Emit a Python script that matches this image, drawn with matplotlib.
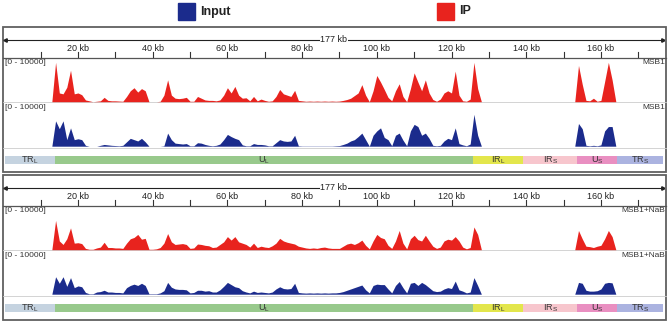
import matplotlib.pyplot as plt
from matplotlib.patches import Rectangle

plt.rcParams['font.family'] = ['Liberation Sans', 'DejaVu Sans']

# coverage per 1 kb bin, 0..177 kb
positions = list(range(178))

ip_msb1 = [
    0, 0, 0, 0, 0, 0, 0, 0, 0, 0,
    0, 0, 0, 0, 9000, 2000, 1800, 3300, 7200, 1800,
    2000, 1600, 400, 200, 0, 100, 200, 1000, 300, 200,
    200, 150, 100, 1200, 2500, 3200, 2200, 3000, 2500, 0,
    0, 0, 100, 1500, 5000, 1500, 800, 700, 800, 1000,
    100, 100, 1200, 800, 400, 300, 300, 200, 400, 1500,
    3200, 2000, 3500, 1500, 800, 900, 200, 1200, 200, 600,
    300, 100, 200, 1200, 2800, 1800, 1500, 1200, 2600, 300,
    200, 100, 150, 100, 150, 100, 150, 100, 150, 100,
    150, 300, 500, 800, 1400, 2000, 3900, 1500, 0, 2500,
    6000, 4500, 2800, 1000, 200, 2500, 4100, 1200, 0, 3000,
    6600, 4500, 2500, 5000, 2000, 500, 100, 600, 2000, 2500,
    2000, 7000, 1500, 200, 100, 600, 9000, 3000, 0, 0,
    0, 0, 0, 0, 0, 0, 0, 0, 0, 0,
    0, 0, 0, 0, 0, 0, 0, 0, 0, 0,
    0, 0, 0, 0, 8300, 4000, 300, 200, 800, 100,
    300, 4600, 9000, 5000, 0, 0, 0, 0, 0, 0,
    0, 0, 0, 0, 0, 0, 0, 0,
]

input_msb1 = [
    0, 0, 0, 0, 0, 0, 0, 0, 0, 0,
    0, 0, 0, 0, 5800, 4000, 5800, 1500, 4200, 1500,
    1700, 1500, 200, 0, 0, 0, 200, 400, 300, 200,
    150, 100, 200, 1000, 1800, 1500, 1200, 1800, 1000, 0,
    0, 0, 0, 100, 3000, 1500, 700, 600, 500, 600,
    100, 100, 800, 700, 400, 200, 100, 200, 500, 1500,
    2700, 2200, 1800, 1500, 300, 100, 100, 600, 400, 400,
    300, 100, 100, 800, 1500, 1200, 1100, 1200, 2500, 100,
    50, 50, 50, 50, 50, 50, 50, 50, 50, 100,
    150, 400, 700, 1200, 1500, 2200, 3000, 1500, 0, 2500,
    3500, 4200, 2000, 1500, 100, 2500, 3000, 1400, 100, 3500,
    5000, 4500, 2500, 3000, 1800, 200, 100, 200, 1200, 1800,
    1500, 4200, 600, 300, 100, 500, 7300, 2500, 0, 0,
    0, 0, 0, 0, 0, 0, 0, 0, 0, 0,
    0, 0, 0, 0, 0, 0, 0, 0, 0, 0,
    0, 0, 0, 0, 5200, 4000, 200, 100, 200, 100,
    300, 3500, 4500, 4500, 0, 0, 0, 0, 0, 0,
    0, 0, 0, 0, 0, 0, 0, 0,
]

ip_nab = [
    0, 0, 0, 0, 0, 0, 0, 0, 0, 0,
    0, 0, 0, 0, 6700, 2000, 1200, 2500, 5000, 1500,
    1600, 1400, 300, 100, 100, 400, 600, 1700, 500, 500,
    400, 400, 300, 1500, 2500, 2800, 3500, 2400, 2600, 100,
    100, 200, 500, 1500, 3700, 1800, 1200, 1300, 1400, 1200,
    300, 400, 1300, 1200, 1000, 900, 500, 600, 1200, 1800,
    3000, 2200, 3000, 1800, 1500, 1200, 600, 1500, 500, 800,
    600, 500, 900, 1500, 2600, 2000, 1700, 1500, 1300, 800,
    600, 400, 300, 400, 300, 500, 600, 400, 300, 300,
    300, 800, 1300, 1500, 1200, 1600, 2200, 1000, 200, 2000,
    3500, 2800, 2500, 1000, 300, 2000, 4400, 1500, 200, 2500,
    3300, 2300, 2000, 3300, 2000, 800, 300, 600, 2000, 2400,
    2200, 3000, 2000, 600, 200, 500, 5200, 3500, 0, 0,
    0, 0, 0, 0, 0, 0, 0, 0, 0, 0,
    0, 0, 0, 0, 0, 0, 0, 0, 0, 0,
    0, 0, 0, 0, 4400, 2500, 800, 700, 500, 800,
    1000, 2500, 4400, 3000, 0, 0, 0, 0, 0, 0,
    0, 0, 0, 0, 0, 0, 0, 0,
]

input_nab = [
    0, 0, 0, 0, 0, 0, 0, 0, 0, 0,
    0, 0, 0, 0, 4000, 2500, 4000, 1800, 3800, 1500,
    1900, 1700, 400, 100, 100, 500, 600, 900, 500, 500,
    400, 400, 300, 1500, 2000, 2300, 2000, 2500, 2000, 100,
    100, 100, 300, 800, 2700, 1600, 1200, 1100, 1100, 1000,
    300, 400, 900, 900, 700, 800, 500, 500, 1000, 1800,
    2700, 2200, 1700, 1500, 800, 500, 300, 700, 400, 500,
    400, 300, 500, 1200, 1700, 1300, 1200, 1300, 2500, 400,
    300, 250, 300, 250, 300, 250, 300, 250, 300, 300,
    400, 600, 900, 1200, 1500, 1800, 2100, 1000, 300, 2000,
    2300, 2200, 2200, 1200, 300, 2000, 2900, 1500, 300, 2500,
    2700, 2000, 2700, 2200, 1500, 800, 600, 700, 1200, 1500,
    1300, 3000, 1000, 700, 300, 500, 3800, 2000, 0, 0,
    0, 0, 0, 0, 0, 0, 0, 0, 0, 0,
    0, 0, 0, 0, 0, 0, 0, 0, 0, 0,
    0, 0, 0, 0, 2700, 2500, 900, 700, 700, 800,
    1200, 2500, 2700, 2600, 0, 0, 0, 0, 0, 0,
    0, 0, 0, 0, 0, 0, 0, 0,
]

# genome segments (kb)
seg_names = ['TR$_\\mathregular{L}$', 'U$_\\mathregular{L}$', 'IR$_\\mathregular{L}$',
             'IR$_\\mathregular{S}$', 'U$_\\mathregular{S}$', 'TR$_\\mathregular{S}$']
seg_start = [0.5, 13.8, 125.8, 139.2, 153.6, 164.3]
seg_end = [13.8, 125.8, 139.2, 153.6, 164.3, 176.6]
seg_colors = ['#c5d3e0', '#98c98c', '#e3e64c', '#f7c6cd', '#e98fc1', '#abb3e0']

genome_len = 177
tick_kb = list(range(10, 180, 10))
label_kb = list(range(20, 180, 20))

ip_color = '#e8231e'
input_color = '#1b2b8c'

W, H = 672, 327
fig = plt.figure(figsize=(W / 100, H / 100), dpi=100)

# background axes in pixel units for frames and separators
bg = fig.add_axes([0, 0, 1, 1])
bg.set_xlim(0, W)
bg.set_ylim(H, 0)
bg.axis('off')


def px_axes(x0, y0, x1, y1):
    ax = fig.add_axes([x0 / W, 1 - y1 / H, (x1 - x0) / W, (y1 - y0) / H])
    ax.patch.set_alpha(0)
    ax.axis('off')
    return ax


X0, X1 = 3.3, 664.4

# legend
bg.add_patch(Rectangle((178, 3), 17, 17, color=input_color))
bg.text(200, 11.5, 'Input', fontsize=9, fontweight='bold', va='center', color='#222222')
bg.add_patch(Rectangle((437, 3), 17, 17, color=ip_color))
bg.text(459, 11.5, 'IP', fontsize=9, fontweight='bold', va='center', color='#222222')

panels = [(27, 'MSB1', ip_msb1, input_msb1), (175, 'MSB1+NaB', ip_nab, input_nab)]

for top, name, ip, inp in panels:
    bg.add_patch(Rectangle((3, top), 663, 145, fill=False, ec='#606060', lw=1.3))
    bg.plot([3, 666], [top + 31, top + 31], color='#555555', lw=0.9)
    bg.plot([3, 666], [top + 75.3, top + 75.3], color='#cccccc', lw=0.6)
    bg.plot([3, 666], [top + 120.5, top + 120.5], color='#cccccc', lw=0.6)

    # ruler
    ruler = px_axes(X0, top + 5, X1, top + 31)
    ruler.set_xlim(0, genome_len)
    ruler.set_ylim(26, 0)
    ruler.plot([0.5, genome_len - 0.5], [7.5, 7.5], color='#222222', lw=0.8)
    ruler.plot([0.5], [7.5], marker='<', ms=2.5, color='#222222')
    ruler.plot([genome_len - 0.5], [7.5], marker='>', ms=2.5, color='#222222')
    ruler.text(genome_len / 2, 7.5, '177 kb', fontsize=6.5, ha='center', va='center',
               color='#222222', bbox=dict(fc='white', ec='none', pad=0.6))
    for t in tick_kb:
        ruler.plot([t, t], [20, 25.5], color='#333333', lw=0.8)
    for t in label_kb:
        ruler.text(t, 16.5, '%d kb' % t, fontsize=6.5, ha='center', va='center', color='#222222')

    # coverage tracks
    for (y0, y1, values, color) in [(top + 31, top + 74.7, ip, ip_color),
                                    (top + 75.5, top + 119.2, inp, input_color)]:
        ax = px_axes(X0, y0, X1, y1)
        ax.set_xlim(0, genome_len)
        ax.set_ylim(0, 10000)
        ax.fill_between(positions, 0, values, color=color, lw=0)
        bg.text(5, y0 + 5, '[0 - 10000]', fontsize=6, va='center', color='#333333')
        bg.text(665, y0 + 5, name, fontsize=6, va='center', ha='right', color='#333333')

    # genome segments
    seg = px_axes(X0, top + 128.5, X1, top + 137)
    seg.set_xlim(0, genome_len)
    seg.set_ylim(0, 1)
    seg.barh([0.5] * len(seg_start), [e - s for s, e in zip(seg_start, seg_end)],
             left=seg_start, height=1, color=seg_colors)
    for nm, s, e in zip(seg_names, seg_start, seg_end):
        seg.text((s + e) / 2, 0.45, nm, fontsize=6.5, ha='center', va='center', color='#333333')

fig.savefig('out.png', dpi=100)
